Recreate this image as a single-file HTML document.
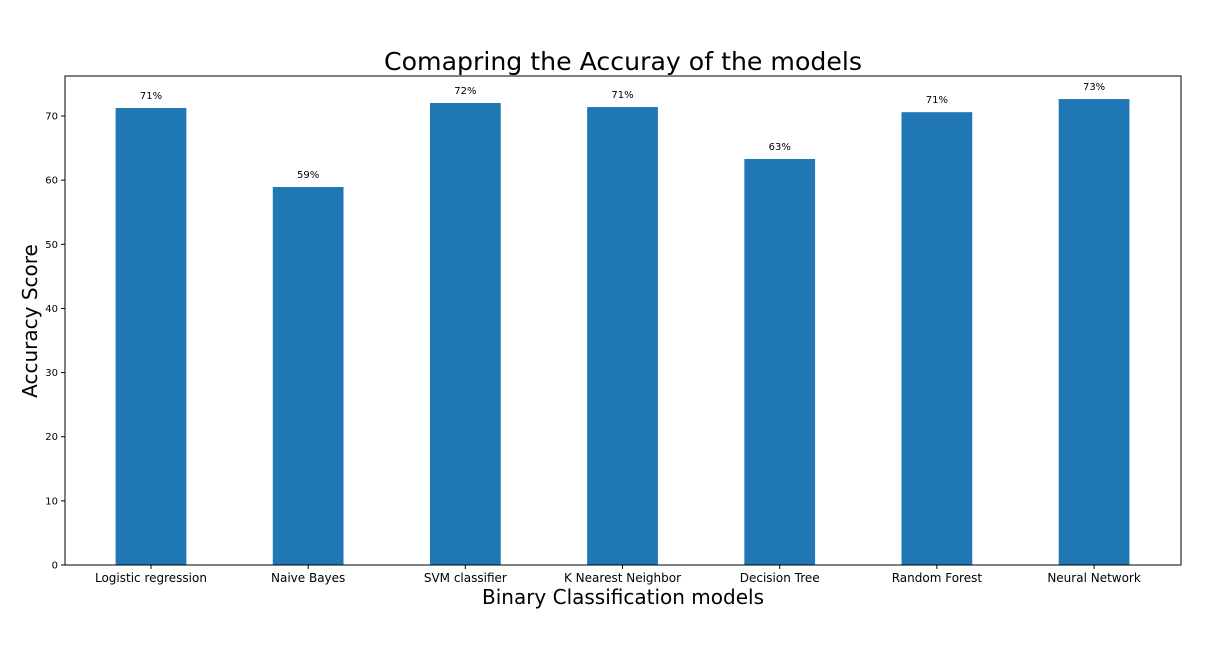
<!DOCTYPE html>
<html><head><meta charset="utf-8"><style>
body{margin:0;background:#fff;width:1216px;height:646px;overflow:hidden}
svg text{font-family:"DejaVu Sans","Liberation Sans",sans-serif}
</style></head><body>
<svg id="chart" width="1216" height="646">
<text x="623" y="70" font-size="25.2" text-anchor="middle">Comapring the Accuray of the models</text>
<text x="623" y="604" font-size="20" text-anchor="middle">Binary Classification models</text>
<text transform="translate(37,321) rotate(-90)" font-size="20" text-anchor="middle">Accuracy Score</text>
<g id="marks"></g>
<rect x="65" y="76" width="1116" height="489" fill="none" stroke="#000" stroke-width="1"/>
</svg>
<script>
const categories = ["Logistic regression","Naive Bayes","SVM classifier","K Nearest Neighbor","Decision Tree","Random Forest","Neural Network"];
const values = [71.25, 58.93, 72.03, 71.4, 63.3, 70.6, 72.65];
const valueLabels = ["71%","59%","72%","71%","63%","71%","73%"];
const yTicks = [0,10,20,30,40,50,60,70];

const L=65,R=1181,T=76,B=565;
const xMin=-0.547,xMax=6.553,yMax=76.24;
const xs=v=>L+(v-xMin)/(xMax-xMin)*(R-L);
const ys=v=>B-v/yMax*(B-T);
const NS="http://www.w3.org/2000/svg";
const g=document.getElementById('marks');
function mk(tag,attrs,text){const e=document.createElementNS(NS,tag);for(const k in attrs)e.setAttribute(k,attrs[k]);if(text!==undefined)e.textContent=text;g.appendChild(e);return e;}
const bw=0.45;
categories.forEach((c,i)=>{
  const x0=xs(i-bw/2),x1=xs(i+bw/2);
  const b=mk('rect',{x:x0,y:ys(values[i]),width:x1-x0,height:B-ys(values[i]),fill:'#1f77b4'});
  
  
  const vl=mk('text',{x:xs(i),y:ys(values[i])-9,'font-size':10,'text-anchor':'middle'},valueLabels[i]);
  
  
  const tk=mk('line',{x1:xs(i),x2:xs(i),y1:B,y2:B+4,stroke:'#000'});
  
  
  const tl=mk('text',{x:xs(i),y:B+17,'font-size':12,'text-anchor':'middle'},c);
  
  
});
yTicks.forEach(t=>{
  const tk=mk('line',{x1:L-4,x2:L,y1:ys(t),y2:ys(t),stroke:'#000'});
  
  
  const tl=mk('text',{x:L-7,y:ys(t)+3.5,'font-size':10,'text-anchor':'end'},String(t));
  
  
});
</script>
</body></html>
